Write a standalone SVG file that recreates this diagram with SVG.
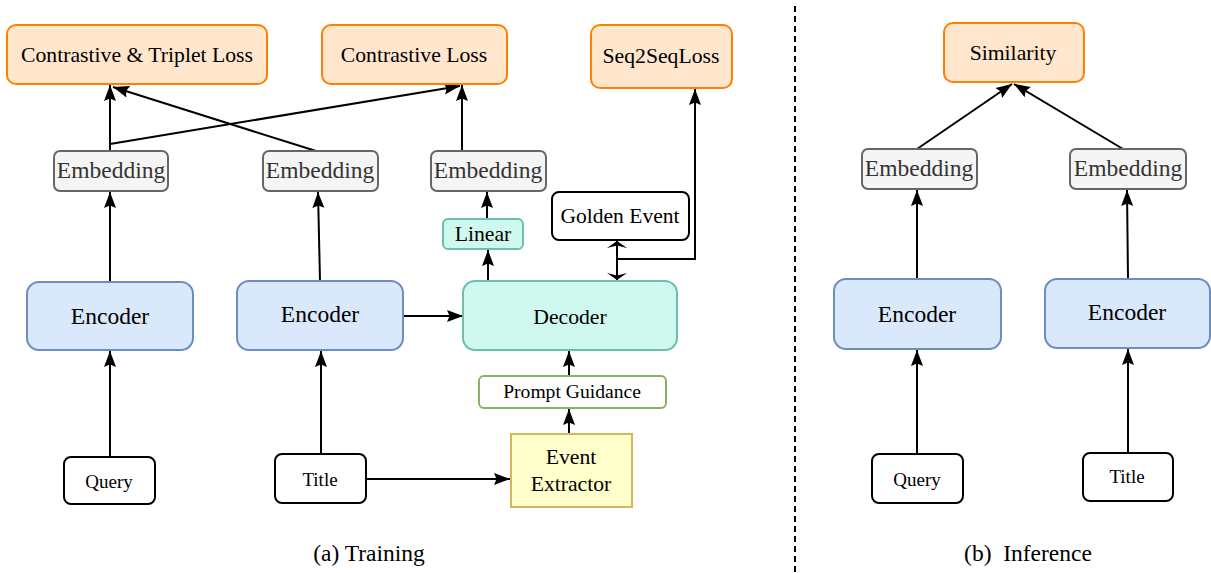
<svg xmlns="http://www.w3.org/2000/svg" width="1211" height="573" viewBox="0 0 1211 573">
<style>
text{font-family:"Liberation Serif","Times New Roman",serif;fill:#000;text-anchor:middle}
.loss{fill:#ffe6cc;stroke:#ff8000;stroke-width:2}
.emb{fill:#f5f5f5;stroke:#666;stroke-width:2}
.embt{fill:#333;font-size:23.5px}
.enc{fill:#dae8fc;stroke:#6c8ebf;stroke-width:2}
.dec{fill:#cff8ee;stroke:#6cbfae;stroke-width:2}
.plain{fill:#fff;stroke:#000;stroke-width:2}
.t21{font-size:21.7px}
.t19{font-size:19px}
.t23{font-size:23.5px}
.c line,.c polyline{stroke:#000;stroke-width:2;fill:none}
</style>
<defs>
<marker id="ah" markerUnits="userSpaceOnUse" markerWidth="17" markerHeight="13" refX="16" refY="6.5" orient="auto">
<path d="M0,0.5 L16,6.5 L0,12.5 L2.5,6.5 z" fill="#000"/>
</marker>
<marker id="dh" markerUnits="userSpaceOnUse" markerWidth="8" markerHeight="22" refX="7" refY="11" orient="auto">
<path d="M0,1 L7,11 L0,21 L2.5,11 z" fill="#000"/>
</marker>
</defs>
<rect width="1211" height="573" fill="#fff"/>

<g id="connectors" class="c">
<line x1="110" y1="151" x2="110" y2="85" marker-end="url(#ah)"/>
<line x1="110" y1="144" x2="460" y2="86" marker-end="url(#ah)"/>
<line x1="316" y1="151" x2="113" y2="87" marker-end="url(#ah)"/>
<line x1="462" y1="151" x2="462" y2="85" marker-end="url(#ah)"/>
<line x1="487" y1="219" x2="487" y2="192" marker-end="url(#ah)"/>
<line x1="488" y1="281" x2="488" y2="250" marker-end="url(#ah)"/>
<line x1="617" y1="260" x2="617" y2="241" marker-end="url(#dh)"/>
<line x1="617" y1="260" x2="617" y2="280" marker-end="url(#dh)"/>
<polyline points="617,259 695,259 695,89" marker-end="url(#ah)"/>
<line x1="110" y1="282" x2="110" y2="192" marker-end="url(#ah)"/>
<line x1="320" y1="281" x2="318" y2="192" marker-end="url(#ah)"/>
<line x1="110" y1="457" x2="110" y2="351" marker-end="url(#ah)"/>
<line x1="321" y1="454" x2="321" y2="351" marker-end="url(#ah)"/>
<line x1="403" y1="316" x2="463" y2="316" marker-end="url(#ah)"/>
<line x1="366" y1="479" x2="510" y2="479" marker-end="url(#ah)"/>
<line x1="569" y1="434" x2="569" y2="409" marker-end="url(#ah)"/>
<line x1="569" y1="376" x2="569" y2="351" marker-end="url(#ah)"/>
<line x1="917" y1="149" x2="1012" y2="84" marker-end="url(#ah)"/>
<line x1="1123" y1="149" x2="1014" y2="84" marker-end="url(#ah)"/>
<line x1="917" y1="279" x2="917" y2="190" marker-end="url(#ah)"/>
<line x1="1128" y1="279" x2="1127" y2="190" marker-end="url(#ah)"/>
<line x1="917" y1="454" x2="917" y2="350" marker-end="url(#ah)"/>
<line x1="1128" y1="453" x2="1128" y2="349" marker-end="url(#ah)"/>
</g>

<line id="divider" x1="795" y1="6" x2="795" y2="573" stroke="#000" stroke-width="2" stroke-dasharray="6 4"/>

<g id="ct-loss"><rect class="loss" x="7" y="25" width="260" height="59" rx="9"/><text class="t21" x="137" y="62">Contrastive &amp; Triplet Loss</text></g>
<g id="c-loss"><rect class="loss" x="322" y="25" width="185" height="59" rx="9"/><text class="t21" x="414" y="62">Contrastive Loss</text></g>
<g id="s2s-loss"><rect class="loss" x="591" y="25" width="141" height="63" rx="9"/><text class="t21" x="661" y="63">Seq2SeqLoss</text></g>

<g id="emb1"><rect class="emb" x="54" y="151" width="114" height="40" rx="6"/><text class="embt" x="111" y="178">Embedding</text></g>
<g id="emb2"><rect class="emb" x="263" y="151" width="115" height="40" rx="6"/><text class="embt" x="320" y="178">Embedding</text></g>
<g id="emb3"><rect class="emb" x="431" y="151" width="115" height="40" rx="6"/><text class="embt" x="488" y="178">Embedding</text></g>

<g id="linear"><rect class="dec" x="443" y="219" width="80" height="30" rx="5"/><text class="t21" x="483" y="241">Linear</text></g>
<g id="golden"><rect class="plain" x="552" y="192" width="137" height="48" rx="7"/><text x="620" y="223" font-size="21.5px">Golden Event</text></g>
<g id="decoder"><rect class="dec" x="463" y="281" width="214" height="69" rx="12"/><text class="t21" x="570" y="324">Decoder</text></g>

<g id="enc1"><rect class="enc" x="27" y="282" width="166" height="68" rx="12"/><text class="t23" x="110" y="324">Encoder</text></g>
<g id="enc2"><rect class="enc" x="237" y="281" width="166" height="69" rx="12"/><text class="t23" x="320" y="322">Encoder</text></g>

<g id="prompt"><rect x="479" y="376" width="187" height="32" rx="5" fill="#fff" stroke="#82b366" stroke-width="2"/><text x="572" y="398" font-size="19.6px">Prompt Guidance</text></g>
<g id="extractor"><rect x="511" y="434" width="121" height="73" fill="#ffffcc" stroke="#d6b656" stroke-width="2"/><text class="t21" x="571" y="464">Event</text><text class="t21" x="571" y="491">Extractor</text></g>

<g id="query1"><rect class="plain" x="64" y="457" width="91" height="47" rx="7"/><text class="t19" x="109" y="488">Query</text></g>
<g id="title1"><rect class="plain" x="275" y="454" width="91" height="49" rx="7"/><text class="t19" x="320" y="486">Title</text></g>

<g id="similarity"><rect class="loss" x="944" y="23" width="140" height="59" rx="9"/><text class="t21" x="1013" y="60">Similarity</text></g>
<g id="emb4"><rect class="emb" x="862" y="149" width="115" height="40" rx="6"/><text class="embt" x="919" y="176">Embedding</text></g>
<g id="emb5"><rect class="emb" x="1070" y="149" width="116" height="40" rx="6"/><text class="embt" x="1128" y="176">Embedding</text></g>
<g id="enc3"><rect class="enc" x="834" y="279" width="167" height="70" rx="12"/><text class="t23" x="917" y="322">Encoder</text></g>
<g id="enc4"><rect class="enc" x="1045" y="279" width="165" height="69" rx="12"/><text class="t23" x="1127" y="320">Encoder</text></g>
<g id="query2"><rect class="plain" x="872" y="454" width="91" height="49" rx="7"/><text class="t19" x="917" y="486">Query</text></g>
<g id="title2"><rect class="plain" x="1083" y="453" width="90" height="48" rx="7"/><text class="t19" x="1127" y="483">Title</text></g>

<text id="cap-a" class="t23" x="369" y="561">(a) Training</text>
<text id="cap-b" class="t23" x="1028" y="561" xml:space="preserve">(b)  Inference</text>
</svg>
